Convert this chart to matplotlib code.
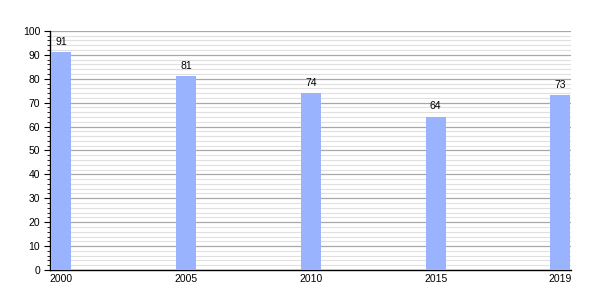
import matplotlib
matplotlib.use('Agg')
import matplotlib.pyplot as plt
import numpy as np
from matplotlib.ticker import MultipleLocator

# data
years = ['2000', '2005', '2010', '2015', '2019']
values = [91, 81, 74, 64, 73]

plt.rcParams['font.family'] = ['Liberation Sans', 'DejaVu Sans']

fig = plt.figure(figsize=(6, 3), dpi=100)
ax = fig.add_axes([0.0833, 0.1, 0.8685, 0.797])

x = np.arange(len(years))
w = 0.16
ax.bar(x, values, width=w, color='#99b3ff', zorder=3)
for xi, v in zip(x, values):
    ax.annotate(str(v), (xi, v), xytext=(0, 4), textcoords='offset points',
                ha='center', va='bottom', fontsize=7.5, color='black')

ax.set_xlim(-w / 2 - 0.01, len(years) - 1 + w / 2 + 0.005)
ax.set_ylim(0, 100)
ax.set_xticks(x)
ax.set_xticklabels(years)
ax.yaxis.set_major_locator(MultipleLocator(10))
ax.yaxis.set_minor_locator(MultipleLocator(2))

ax.grid(axis='y', which='major', color='#a8a8a8', linewidth=0.9, zorder=1)
ax.grid(axis='y', which='minor', color='#e0e0e0', linewidth=0.8, zorder=1)
ax.set_axisbelow(True)

for s in ['top', 'right']:
    ax.spines[s].set_visible(False)
ax.spines['left'].set_linewidth(1)
ax.spines['bottom'].set_linewidth(1)

ax.tick_params(axis='y', which='major', length=4, width=0.8, labelsize=7.5, pad=3)
ax.tick_params(axis='y', which='minor', length=2, width=0.6)
ax.tick_params(axis='x', length=0, labelsize=7.5, pad=3)

fig.savefig('out.png', dpi=100)
